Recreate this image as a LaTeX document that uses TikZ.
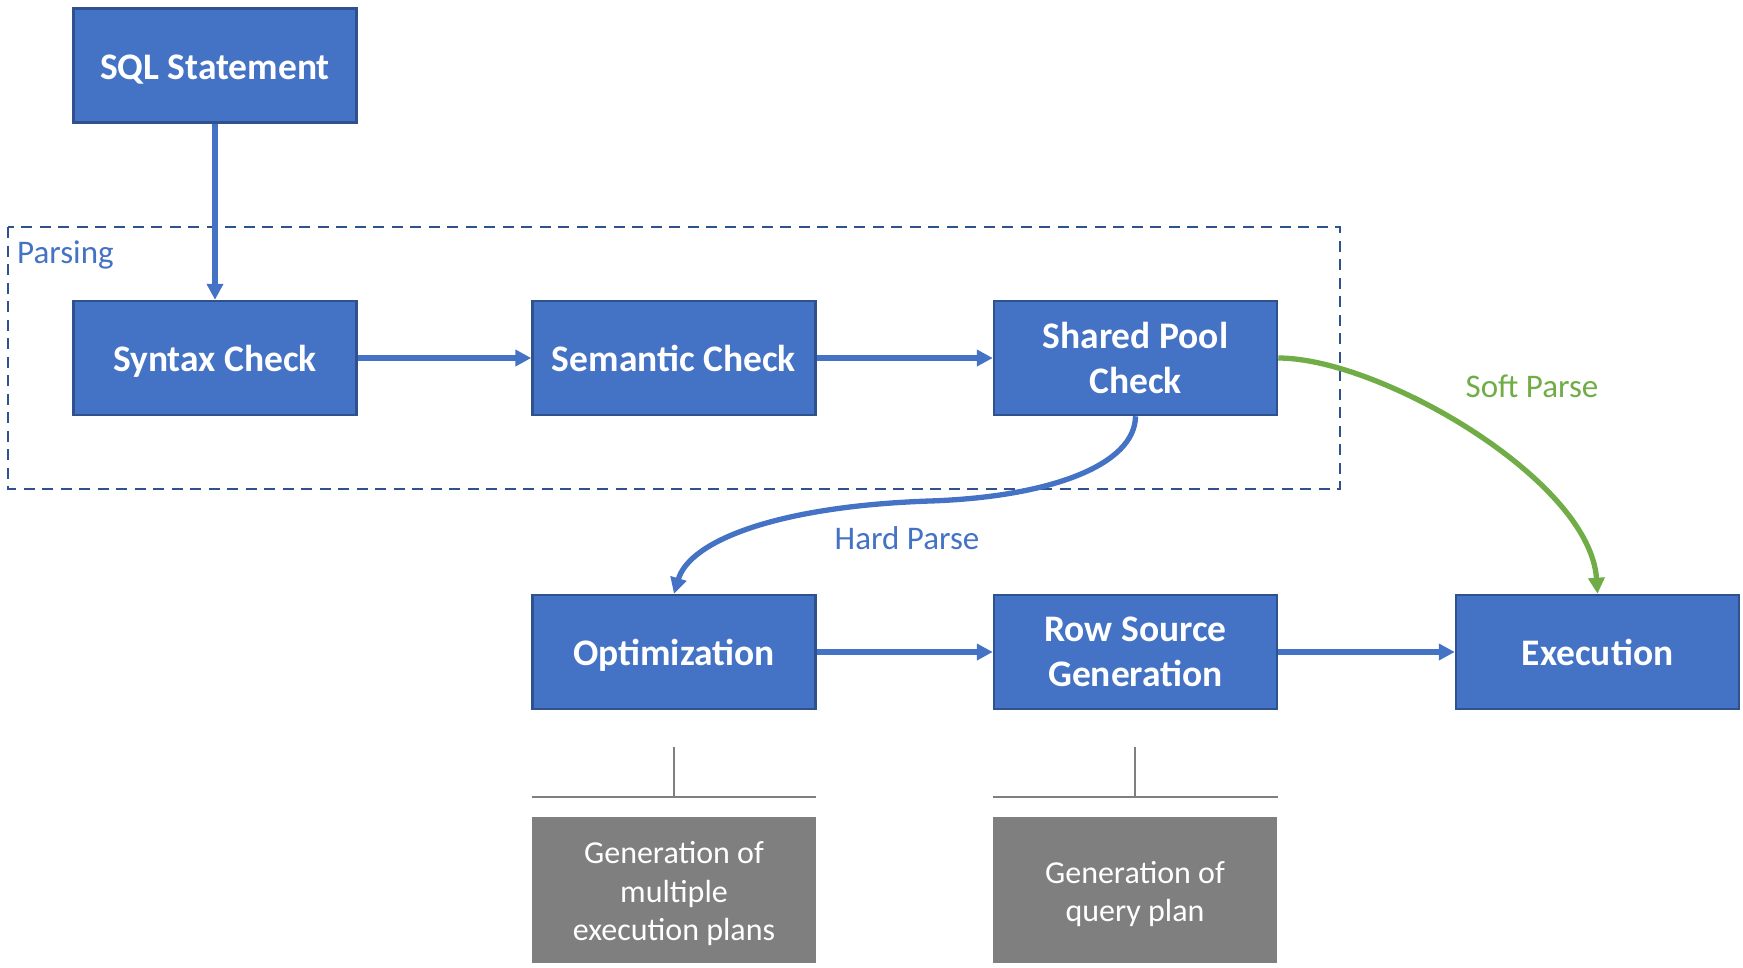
\documentclass[tikz,border=0pt]{standalone}
\usepackage{fontspec}
\setmainfont{Carlito}
\usetikzlibrary{arrows.meta}
\definecolor{boxblue}{HTML}{4472C4}
\definecolor{boxedge}{HTML}{2F528F}
\definecolor{boxgray}{HTML}{7F7F7F}
\definecolor{softgreen}{HTML}{70AD47}
\tikzset{
  bluebox/.style={draw=boxedge, line width=2.5pt, fill=boxblue, text=white,
    minimum width=283pt, minimum height=114pt, inner sep=0pt, align=center,
    font=\fontsize{37.5}{45}\selectfont\bfseries},
  oneline/.style={text height=27pt, text depth=0pt},
  graybox/.style={fill=boxgray, minimum width=284pt, minimum height=146pt, inner sep=0pt},
  graytext/.style={text=white, inner sep=0pt, align=center, font=\fontsize{32}{38.5}\selectfont},
  flow/.style={draw=boxblue, line width=5.3pt, -{Triangle[length=16pt,width=16pt]}},
  soft/.style={draw=softgreen, line width=5.3pt, -{Triangle[length=16pt,width=16pt]}},
  lbl/.style={font=\fontsize{33}{40}\selectfont, inner sep=0pt},
  bracket/.style={draw=boxgray, line width=2.5pt},
}
\begin{document}
\begin{tikzpicture}[x=1pt,y=-1pt]
\useasboundingbox (0,0) rectangle (1743,967);
% parsing frame
\draw[draw=boxedge, line width=2.7pt, dash pattern=on 11pt off 7.5pt] (8,227) rectangle (1340,489);
\node[lbl, text=boxblue, anchor=west] (parsing) at (17,255) {Parsing};
% boxes
\node[bluebox, oneline] (sql) at (215,65.5) {SQL Statement};
\node[bluebox, oneline] (syn) at (215,358) {Syntax Check};
\node[bluebox, oneline] (sem) at (674,358) {Semantic Check};
\node[bluebox] (spc) at (1135.5,358) {Shared Pool\\Check};
\node[bluebox, oneline] (opt) at (674,652) {Optimization};
\node[bluebox] (rsg) at (1135.5,652) {Row Source\\Generation};
\node[bluebox, oneline] (exe) at (1597.5,652) {Execution};
\node[graybox] (g1) at (674,890) {};
\node[graybox] (g2) at (1135,890) {};
\node[graytext] (g1t) at ([yshift=-4pt]g1.center) {Generation of\\multiple\\execution plans};
\node[graytext] (g2t) at ([yshift=-4pt]g2.center) {Generation of\\query plan};
% arrows
\draw[flow] (sql.south) -- (syn.north);
\draw[flow] (syn.east) -- (sem.west);
\draw[flow] (sem.east) -- (spc.west);
\draw[flow] (opt.east) -- (rsg.west);
\draw[flow] (rsg.east) -- (exe.west);
\coordinate (hmid) at (930,501);
\draw[flow] (spc.south) .. controls (1135,465) and (1050,497) .. (hmid)
  .. controls (780,506) and (690,540) .. (opt.north);
\draw[soft] (spc.east) .. controls (1380,358) and (1590,480) .. (exe.north);
\node[lbl, text=boxblue] (hard) at (907,538) {Hard Parse};
\node[lbl, text=softgreen] (softl) at (1532,386) {Soft Parse};
% brackets
\coordinate (b1t) at (674,747);
\coordinate (b1m) at (674,797);
\coordinate (b1l) at (532,797);
\coordinate (b1r) at (816,797);
\coordinate (b2t) at (1135,747);
\coordinate (b2m) at (1135,797);
\coordinate (b2l) at (993,797);
\coordinate (b2r) at (1278,797);
\draw[bracket] (b1l) -- (b1r);
\draw[bracket, line width=2pt] (b1t) -- (b1m);
\draw[bracket] (b2l) -- (b2r);
\draw[bracket, line width=2pt] (b2t) -- (b2m);
\end{tikzpicture}
\end{document}
